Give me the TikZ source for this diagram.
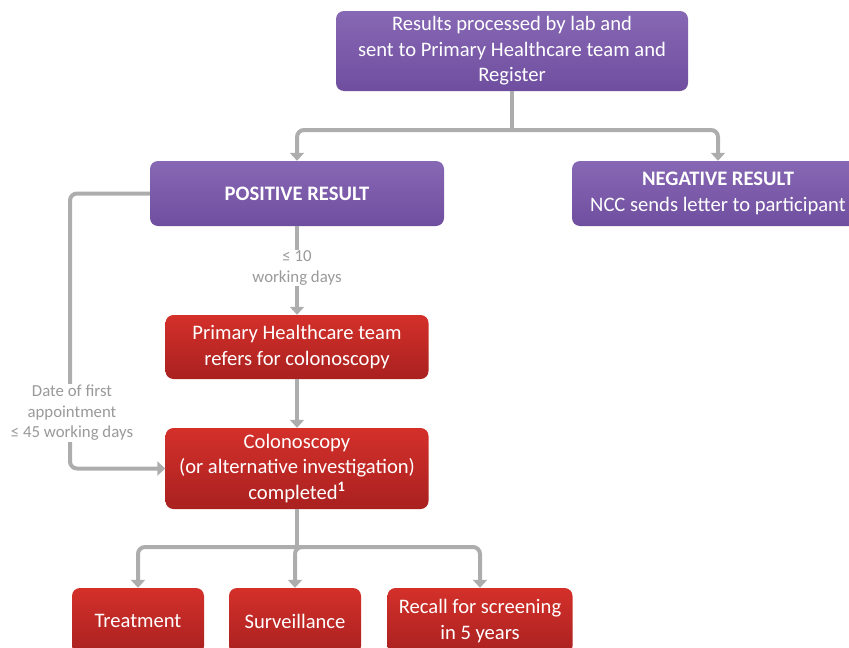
\documentclass[tikz,border=0pt]{standalone}
\usepackage{fontspec}
\setmainfont{Carlito}
\usetikzlibrary{arrows.meta}
\definecolor{purT}{HTML}{8768B4}
\definecolor{purB}{HTML}{6F4E9F}
\definecolor{redT}{HTML}{D4302A}
\definecolor{redB}{HTML}{A92120}
\definecolor{conncol}{HTML}{ADADAD}
\definecolor{lblcol}{HTML}{9A9A9A}
\tikzset{
  box/.style={rounded corners=8pt, inner sep=0pt, align=center, text=white,
    font=\fontsize{20.6}{25.5}\selectfont},
  purbox/.style={box, top color=purT, bottom color=purB},
  redbox/.style={box, top color=redT, bottom color=redB},
  conn/.style={draw=conncol, line width=4pt, rounded corners=7pt},
  arr/.style={conn, -{Triangle[width=14pt,length=8pt]}},
  lbl/.style={text=lblcol, fill=white, align=center, inner sep=1pt,
    font=\fontsize{16.8}{20.5}\selectfont}
}
\begin{document}
\begin{tikzpicture}[x=1pt,y=-1pt]
\useasboundingbox (0,0) rectangle (849,648);
\node[purbox, minimum width=352pt, minimum height=80pt] (top) at (512,51)
  {Results processed by lab and\\sent to Primary Healthcare team and\\Register};
\node[purbox, minimum width=294pt, minimum height=65pt] (pos) at (297,193.5)
  {\textbf{POSITIVE RESULT}};
\node[purbox, minimum width=292pt, minimum height=65pt] (neg) at (718,193.5)
  {\textbf{NEGATIVE RESULT}\\NCC sends letter to participant};
\node[redbox, minimum width=263pt, minimum height=64pt] (ref) at (297,347)
  {Primary Healthcare team\\refers for colonoscopy};
\node[redbox, minimum width=263pt, minimum height=81pt] (col) at (297,468.5)
  {Colonoscopy\\(or alternative investigation)\\completed\textsuperscript{\textbf{1}}};
\node[redbox, minimum width=132pt, minimum height=66pt] (treat) at (138,621)
  {Treatment};
\node[redbox, minimum width=132pt, minimum height=66pt] (surv) at (295,621)
  {Surveillance};
\node[redbox, minimum width=185pt, minimum height=66pt] (recall) at (480,621)
  {Recall for screening\\in 5 years};

\coordinate (j1) at (512,130);
\draw[conn] (top.south) -- (j1);
\draw[arr] (j1) -| (pos.north);
\draw[arr] (j1) -| (neg.north);

\draw[arr] (pos.south) -- (ref.north);
\node[lbl] (l10) at (297,268) {≤ 10\\working days};

\draw[arr] (ref.south) -- (col.north);

\coordinate (lc1) at (70,193.5);
\coordinate (lc2) at (70,468.5);
\draw[arr] (pos.west) -- (lc1) -- (lc2) -- (col.west);
\node[lbl] (l45) at (72,413) {Date of first\\appointment\\≤ 45 working days};

\coordinate (j2) at (297,547);
\draw[conn] (col.south) -- (j2);
\draw[arr] (j2) -| (treat.north);
\draw[arr] (j2) -| (surv.north);
\draw[arr] (j2) -| (recall.north);
\end{tikzpicture}
\end{document}
